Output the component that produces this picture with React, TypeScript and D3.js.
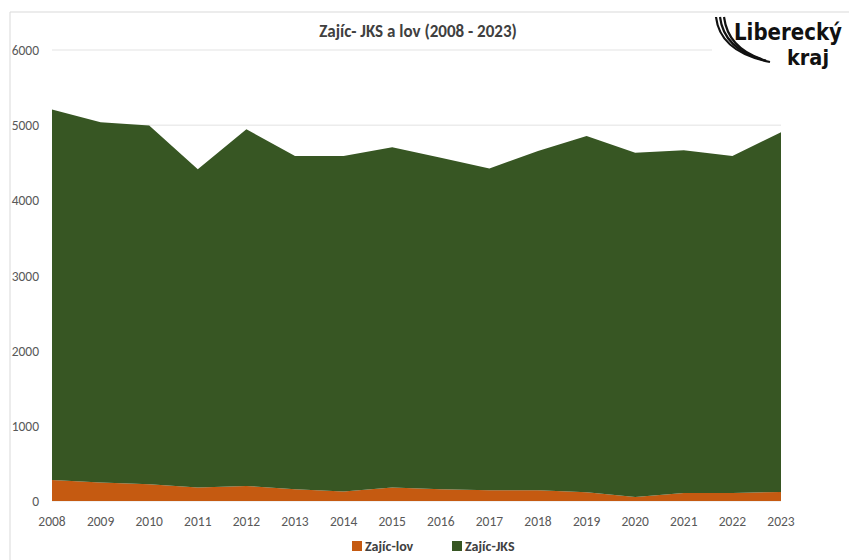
import React from 'react';
import * as d3 from 'd3';

const years = ['2008', '2009', '2010', '2011', '2012', '2013', '2014', '2015', '2016', '2017', '2018', '2019', '2020', '2021', '2022', '2023'];
const lov = [280, 245, 222, 178, 200, 156, 125, 178, 156, 142, 142, 116, 53, 107, 107, 120];
const jks = [4930, 4793, 4773, 4235, 4745, 4434, 4465, 4527, 4411, 4283, 4514, 4740, 4581, 4558, 4483, 4785];
const yTicks = [0, 1000, 2000, 3000, 4000, 5000, 6000];

const font = "Calibri, Carlito, Lato, 'Open Sans', sans-serif";
const logoFont = "'Liberation Sans Narrow', 'DejaVu Sans Condensed', sans-serif";

export default function App() {
  const width = 849;
  const height = 560;
  const margin = { left: 52, right: 68, top: 50, bottom: 59 };

  const x = d3.scalePoint<string>().domain(years).range([margin.left, width - margin.right]);
  const y = d3.scaleLinear().domain([0, 6000]).range([height - margin.bottom, margin.top]);

  const rows = years.map((yr, i) => ({ yr, lov: lov[i], jks: jks[i] }));
  const stacked = d3.stack<any>().keys(['lov', 'jks'])(rows);
  const colors: Record<string, string> = { lov: '#C55A11', jks: '#375623' };

  const area = d3.area<any>()
    .x((d) => x(d.data.yr)!)
    .y0((d) => y(d[0]))
    .y1((d) => y(d[1]));

  return (
    <svg width={width} height={height} style={{ position: 'absolute', left: 0, top: 0, background: '#fff' }}>
      <line x1={10} x2={10} y1={12} y2={height} stroke="#d9d9d9" />
      <line x1={10} x2={width} y1={12} y2={12} stroke="#d9d9d9" />

      {yTicks.map((t) => (
        <g key={t}>
          <line x1={x.range()[0]} x2={x.range()[1]} y1={y(t)} y2={y(t)} stroke="#ececec" strokeWidth={1.5} />
          <text x={39} y={y(t) + 5} textAnchor="end" fontSize={13.5} fill="#595959" fontFamily={font}>{t}</text>
        </g>
      ))}

      {stacked.map((s) => (
        <path key={s.key} d={area(s as any) || ''} fill={colors[s.key]} />
      ))}

      {years.map((yr) => (
        <text key={yr} x={x(yr)} y={526} textAnchor="middle" fontSize={13.5} fill="#595959" fontFamily={font}>{yr}</text>
      ))}

      <text x={418} y={37} textAnchor="middle" fontSize={17} fontWeight="bold" fill="#404040" fontFamily={font}>
        Zajíc- JKS a lov (2008 - 2023)
      </text>

      <g fontFamily={font} fontSize={14} fontWeight="bold" fill="#404040">
        <rect x={352} y={541} width={10} height={10} fill={colors.lov} />
        <text x={365} y={551}>Zajíc-lov</text>
        <rect x={452} y={541} width={10} height={10} fill={colors.jks} />
        <text x={465} y={551}>Zajíc-JKS</text>
      </g>

      <g>
        <rect x={712} y={13} width={137} height={52} fill="#fff" />
        {[0, 4, 8].map((o) => (
          <path key={o} d={`M${716 + o},${17} Q${720 + o},${52 - o / 2} ${770 - o},${62 - o / 3}`} fill="none" stroke="#111" strokeWidth={2.2} />
        ))}
        <text x={734} y={40} fontSize={23} fontWeight="bold" fill="#111" fontFamily={logoFont} textLength={108} lengthAdjust="spacingAndGlyphs">Liberecký</text>
        <text x={787} y={65} fontSize={21} fontWeight="bold" fill="#111" fontFamily={logoFont} textLength={42} lengthAdjust="spacingAndGlyphs">kraj</text>
      </g>
    </svg>
  );
}
